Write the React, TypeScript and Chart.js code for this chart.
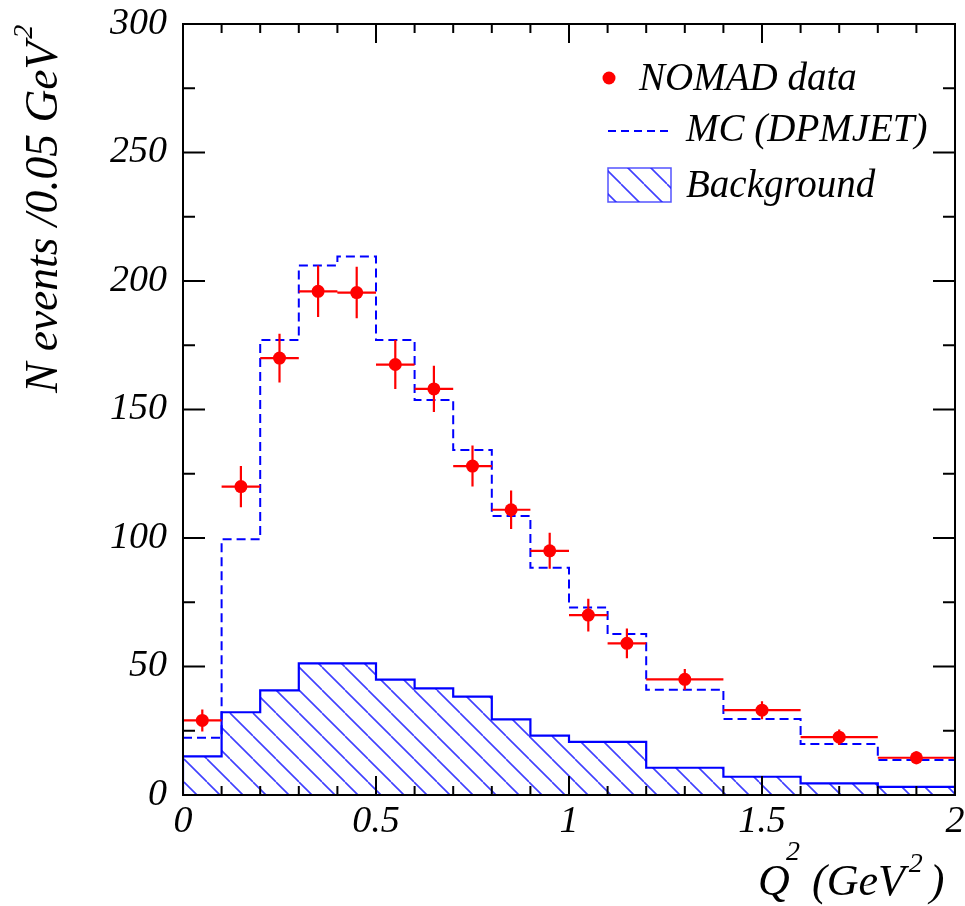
import React, { useEffect, useRef } from 'react';
import { Chart, registerables } from 'chart.js';
Chart.register(...registerables);

// Bin edges of the histograms (GeV^2)
const binEdges = [0, 0.1, 0.2, 0.3, 0.4, 0.5, 0.6, 0.7, 0.8, 0.9, 1.0, 1.1, 1.2, 1.4, 1.6, 1.8, 2.0];
// NOMAD data points (bin centres, values, errors)
const dataX = [0.05, 0.15, 0.25, 0.35, 0.45, 0.55, 0.65, 0.75, 0.85, 0.95, 1.05, 1.15, 1.3, 1.5, 1.7, 1.9];
const dataY = [29, 120, 170, 196, 195.5, 167.5, 158, 128, 111, 95, 70, 59, 45, 33, 22.5, 14.5];
const dataErr = [4.3, 8, 9.5, 10, 10, 9.5, 9, 8, 7.5, 7, 6.4, 5.8, 4, 3.5, 3, 2.5];
// MC (DPMJET) histogram
const mcValues = [22.3, 99.5, 177, 206, 209.5, 177, 153.7, 134.2, 108.6, 88.4, 73, 62.6, 41, 29.6, 19.8, 13.6];
// Background histogram
const bgValues = [15, 32.2, 40.7, 51.2, 51.2, 44.9, 41.5, 38.3, 29.4, 23.1, 20.7, 20.7, 10.6, 7.1, 4.5, 3.2];
// Axis ticks
const xTickLabels = [0, 0.5, 1, 1.5, 2];
const yTickLabels = [0, 50, 100, 150, 200, 250, 300];

const FONT = '"Liberation Serif", "Times New Roman", serif';

function makeHist(vals: number[]) {
  const pts = vals.map((v, i) => ({ x: binEdges[i], y: v }));
  pts.push({ x: binEdges[binEdges.length - 1], y: vals[vals.length - 1] });
  return pts;
}

export default function App() {
  const ref = useRef<HTMLCanvasElement>(null);

  useEffect(() => {
    const canvas = ref.current!;
    const ctx = canvas.getContext('2d')!;

    const s = 23;
    const pc = document.createElement('canvas');
    pc.width = s;
    pc.height = s;
    const g = pc.getContext('2d')!;
    g.strokeStyle = 'rgba(30,30,255,0.85)';
    g.lineWidth = 1.6;
    g.beginPath();
    for (const k of [-s, 0, s]) {
      g.moveTo(k, 0);
      g.lineTo(k + s, s);
    }
    g.stroke();
    const pattern = ctx.createPattern(pc, 'repeat')!;

    const bgPts = [{ x: 0, y: 0 }, ...makeHist(bgValues), { x: 2, y: 0 }];

    const errPlugin = {
      id: 'errbars',
      beforeDatasetDraw(chart: any, args: any) {
        if (args.index !== 0) return;
        const c = chart.ctx;
        const xs = chart.scales.x;
        const ys = chart.scales.y;
        c.save();
        c.strokeStyle = '#ff0000';
        c.lineWidth = 2.2;
        c.beginPath();
        dataX.forEach((x, i) => {
          const py = ys.getPixelForValue(dataY[i]);
          const px = xs.getPixelForValue(x);
          c.moveTo(xs.getPixelForValue(binEdges[i]), py);
          c.lineTo(xs.getPixelForValue(binEdges[i + 1]), py);
          c.moveTo(px, ys.getPixelForValue(dataY[i] + dataErr[i]));
          c.lineTo(px, ys.getPixelForValue(dataY[i] - dataErr[i]));
        });
        c.stroke();
        c.restore();
      },
    };

    const framePlugin = {
      id: 'frame',
      afterDraw(chart: any) {
        const c = chart.ctx;
        const a = chart.chartArea;
        const xs = chart.scales.x;
        const ys = chart.scales.y;
        c.save();
        c.strokeStyle = '#000';
        c.lineWidth = 2;
        c.strokeRect(a.left, a.top, a.right - a.left, a.bottom - a.top);
        c.beginPath();
        for (let i = 0; i <= 12; i++) {
          const v = i * 25;
          const len = v % 50 === 0 ? 22 : 12;
          const py = ys.getPixelForValue(v);
          c.moveTo(a.left, py);
          c.lineTo(a.left + len, py);
          c.moveTo(a.right, py);
          c.lineTo(a.right - len, py);
        }
        for (let i = 0; i <= 20; i++) {
          const v = i / 10;
          const len = i % 5 === 0 ? 19 : 9;
          const px = xs.getPixelForValue(v);
          c.moveTo(px, a.bottom);
          c.lineTo(px, a.bottom - len);
          c.moveTo(px, a.top);
          c.lineTo(px, a.top + len);
        }
        c.stroke();

        // Legend
        const lx = a.left + 425;
        c.fillStyle = '#ff0000';
        c.beginPath();
        c.arc(lx + 1, 78, 6.5, 0, Math.PI * 2);
        c.fill();
        c.fillStyle = '#000';
        c.font = `italic 39px ${FONT}`;
        c.textAlign = 'left';
        c.textBaseline = 'alphabetic';
        c.fillText('NOMAD data', lx + 31, 90);
        c.fillText('MC (DPMJET)', lx + 78, 141);
        c.fillText('Background', lx + 78, 197);
        c.strokeStyle = '#0000ff';
        c.lineWidth = 2;
        c.setLineDash([8, 5]);
        c.beginPath();
        c.moveTo(lx, 131);
        c.lineTo(lx + 60, 131);
        c.stroke();
        c.setLineDash([]);
        c.fillStyle = pattern;
        c.fillRect(lx, 168, 63, 34);
        c.strokeStyle = 'rgba(40,40,255,0.8)';
        c.lineWidth = 1.5;
        c.strokeRect(lx, 168, 63, 34);

        // Y axis title
        c.fillStyle = '#000';
        c.save();
        c.translate(57, 393);
        c.rotate(-Math.PI / 2);
        c.font = `italic 45.5px ${FONT}`;
        const ymain = 'N events /0.05 GeV';
        c.fillText(ymain, 0, 0);
        const yw = c.measureText(ymain).width;
        c.font = `italic 28px ${FONT}`;
        c.fillText('2', yw + 3, -25);
        c.restore();

        // X axis title
        const by = 895;
        c.font = `italic 44px ${FONT}`;
        c.fillText('Q', 758, by);
        c.fillText('(GeV', 812, by);
        const gw = c.measureText('(GeV').width;
        c.fillText(')', 812 + gw + 25, by);
        c.font = `italic 28px ${FONT}`;
        c.fillText('2', 786, by - 35);
        c.fillText('2', 812 + gw + 4, by - 23);
        c.restore();
      },
    };

    const chart = new Chart(ctx, {
      type: 'line',
      data: {
        datasets: [
          {
            type: 'scatter',
            label: 'NOMAD data',
            data: dataX.map((x, i) => ({ x, y: dataY[i] })),
            backgroundColor: '#ff0000',
            borderColor: '#ff0000',
            pointRadius: 6.5,
            pointBorderWidth: 0,
            showLine: false,
            order: 0,
          } as any,
          {
            label: 'MC (DPMJET)',
            data: makeHist(mcValues),
            stepped: 'before',
            borderColor: '#0000ff',
            borderWidth: 2,
            borderDash: [9, 5],
            pointRadius: 0,
            fill: false,
            order: 1,
          },
          {
            label: 'Background',
            data: bgPts,
            stepped: 'before',
            borderColor: '#0000ff',
            borderWidth: 2.2,
            backgroundColor: pattern as any,
            pointRadius: 0,
            fill: 'origin',
            order: 2,
          },
        ],
      },
      options: {
        responsive: false,
        animation: false,
        devicePixelRatio: 1,
        layout: { padding: { top: 24, right: 10, left: 0, bottom: 0 } },
        plugins: { legend: { display: false }, tooltip: { enabled: false } },
        scales: {
          x: {
            type: 'linear',
            min: 0,
            max: 2,
            grid: { display: false, drawTicks: false },
            border: { display: false },
            afterBuildTicks: (scale: any) => {
              scale.ticks = xTickLabels.map((v) => ({ value: v }));
            },
            ticks: {
              autoSkip: false,
              maxRotation: 0,
              padding: 4,
              color: '#000',
              font: { family: FONT, size: 38, style: 'italic' },
              callback: (v: any) => String(v),
            },
            afterFit: (scale: any) => {
              scale.height = 111;
              scale.paddingLeft = 0;
              scale.paddingRight = 0;
            },
          },
          y: {
            type: 'linear',
            min: 0,
            max: 300,
            grid: { display: false, drawTicks: false },
            border: { display: false },
            afterBuildTicks: (scale: any) => {
              scale.ticks = yTickLabels.map((v) => ({ value: v }));
            },
            ticks: {
              autoSkip: false,
              padding: 16,
              color: '#000',
              font: { family: FONT, size: 38, style: 'italic' },
              callback: (v: any) => String(v),
            },
            afterFit: (scale: any) => {
              scale.width = 183;
              scale.paddingTop = 0;
              scale.paddingBottom = 0;
            },
          },
        },
      },
      plugins: [errPlugin, framePlugin],
    });
    return () => chart.destroy();
  }, []);

  return (
    <div style={{ position: 'fixed', left: 0, top: 0, width: 965, height: 906, background: '#fff' }}>
      <canvas ref={ref} width={965} height={906} style={{ display: 'block', width: 965, height: 906 }} />
    </div>
  );
}
